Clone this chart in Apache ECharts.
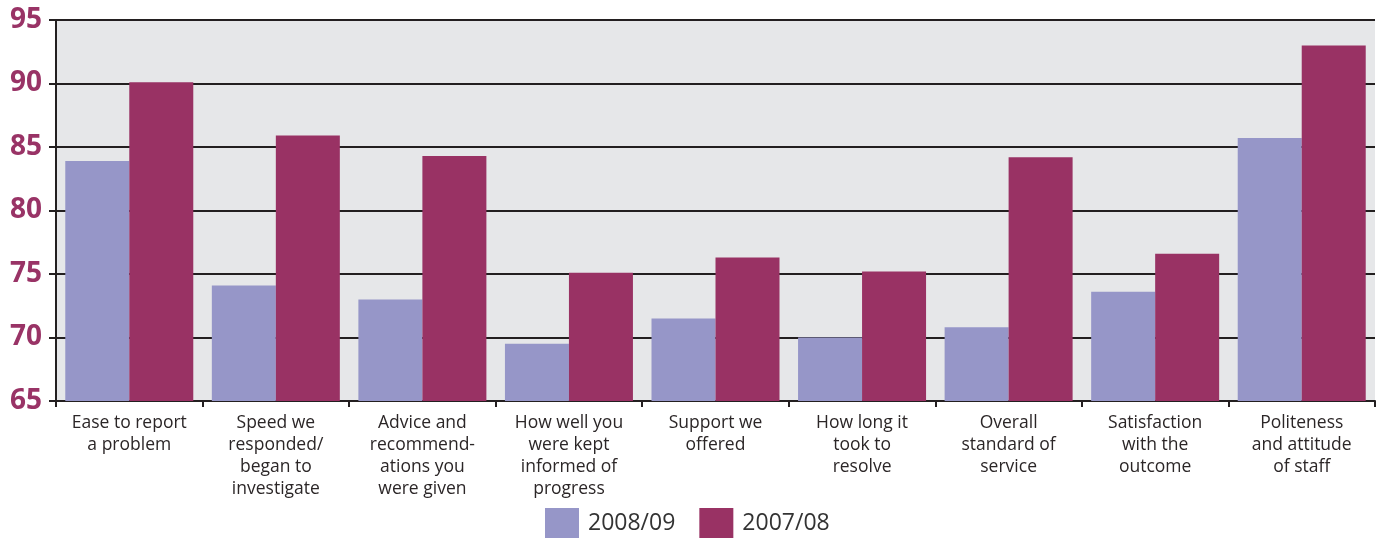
<!DOCTYPE html>
<html>
<head>
<meta charset="utf-8">
<script src="https://cdn.jsdelivr.net/npm/echarts@6/dist/echarts.min.js"></script>
<style>
  html, body { margin: 0; padding: 0; background: #ffffff; }
  #chart { width: 1382px; height: 538px; }
</style>
</head>
<body>
<div id="chart"></div>
<script>
// Survey categories (line breaks as they are set under each bar pair)
const categories = [
  'Ease to report\na problem',
  'Speed we\nresponded/\nbegan to\ninvestigate',
  'Advice and\nrecommend-\nations you\nwere given',
  'How well you\nwere kept\ninformed of\nprogress',
  'Support we\noffered',
  'How long it\ntook to\nresolve',
  'Overall\nstandard of\nservice',
  'Satisfaction\nwith the\noutcome',
  'Politeness\nand attitude\nof staff'
];

// Satisfaction scores per year
const values2008 = [83.9, 74.1, 73.0, 69.5, 71.5, 70.0, 70.8, 73.6, 85.7];
const values2007 = [90.1, 85.9, 84.3, 75.1, 76.3, 75.2, 84.2, 76.6, 93.0];

const seriesNames = ['2008/09', '2007/08'];
const yTicks = { min: 65, max: 95, interval: 5 };

const chart = echarts.init(document.getElementById('chart'), null, { renderer: 'canvas' });

const fontFamily = '"Open Sans", "Noto Sans", sans-serif';
const lineColor = '#231f20';

chart.setOption({
  animation: false,
  backgroundColor: '#ffffff',
  textStyle: { fontFamily: fontFamily },
  grid: {
    left: 56, right: 7, top: 20, bottom: 137,
    show: true,
    backgroundColor: '#e6e7e9',
    borderWidth: 0
  },
  legend: {
    data: seriesNames,
    left: 545,
    top: 508,
    itemWidth: 34,
    itemHeight: 30,
    itemGap: 24,
    icon: 'rect',
    padding: 0,
    textStyle: { fontSize: 23, color: '#333333', fontFamily: fontFamily, padding: [0, 0, 0, 4] }
  },
  xAxis: {
    type: 'category',
    data: categories,
    axisLine: { show: true, lineStyle: { color: lineColor, width: 2 } },
    axisTick: { show: true, alignWithLabel: false, length: 6, lineStyle: { color: lineColor, width: 2 } },
    axisLabel: {
      interval: 0,
      margin: 11,
      fontSize: 17.5,
      lineHeight: 22,
      color: '#2b2627',
      fontFamily: fontFamily
    },
    splitLine: { show: false }
  },
  yAxis: {
    type: 'value',
    min: yTicks.min,
    max: yTicks.max,
    interval: yTicks.interval,
    axisLine: { show: true, lineStyle: { color: lineColor, width: 2 } },
    axisTick: { show: true, length: 7, lineStyle: { color: lineColor, width: 2 } },
    axisLabel: {
      margin: 14,
      fontSize: 28,
      fontWeight: 'bold',
      color: '#993366',
      fontFamily: fontFamily
    },
    splitLine: { show: true, lineStyle: { color: lineColor, width: 2 } }
  },
  series: [
    {
      name: seriesNames[0],
      type: 'bar',
      data: values2008,
      barWidth: 64,
      barGap: '0%',
      itemStyle: { color: '#9696c8' },
      z: 3
    },
    {
      name: seriesNames[1],
      type: 'bar',
      data: values2007,
      barWidth: 64,
      barGap: '0%',
      itemStyle: { color: '#993264' },
      z: 3
    }
  ]
});
</script>
</body>
</html>
